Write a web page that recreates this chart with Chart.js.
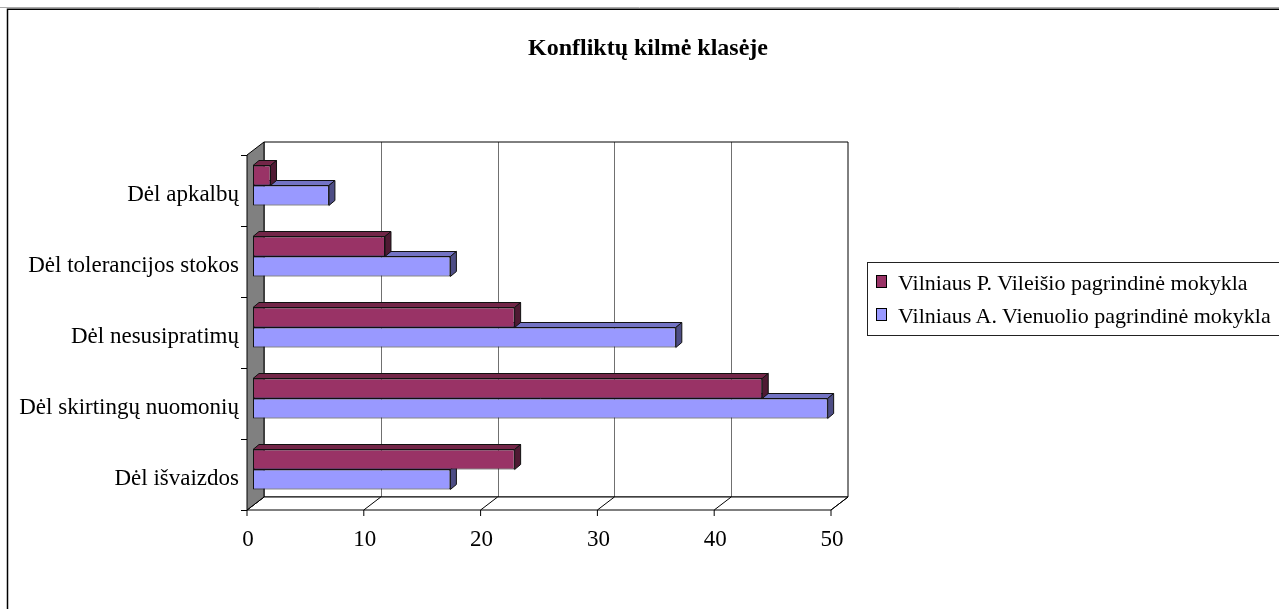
<!DOCTYPE html>
<html lang="lt">
<head>
  <meta charset="UTF-8">
  <title>Konfliktų kilmė klasėje</title>
  <script src="https://cdn.jsdelivr.net/npm/chart.js"></script>
  <style>
    body {
      margin: 0;
      width: 1279px;
      height: 609px;
      overflow: hidden;
      background: #fff;
      font-family: "Liberation Serif", "Times New Roman", serif;
      position: relative;
    }
    #wrap {
      position: absolute;
      left: 0;
      top: 0;
      width: 1279px;
      height: 609px;
    }
    .title {
      position: absolute;
      left: 0;
      width: 1296px;
      top: 35px;
      text-align: center;
      font-weight: bold;
      font-size: 24px;
      line-height: 24px;
    }
    .legend-box {
      position: absolute;
      left: 867px;
      top: 262px;
      width: 480px;
      height: 74px;
      box-sizing: border-box;
      border: 1px solid #222;
    }
    .swatch {
      position: absolute;
      left: 876px;
      width: 11px;
      height: 13px;
      box-sizing: border-box;
      border: 1px solid #000;
    }
    .legend-text {
      position: absolute;
      left: 898px;
      font-size: 22px;
      line-height: 22px;
      white-space: nowrap;
    }
  </style>
</head>
<body>
  <div id="wrap"><canvas id="chart"></canvas></div>
  <div class="title">Konfliktų kilmė klasėje</div>
  <div class="legend-box"></div>
  <div class="swatch" style="top:275px;background:#993366"></div>
  <div class="legend-text" style="top:272px">Vilniaus P. Vileišio pagrindinė mokykla</div>
  <div class="swatch" style="top:308px;background:#9999ff"></div>
  <div class="legend-text" style="top:305px">Vilniaus A. Vienuolio pagrindinė mokykla</div>

  <script>
    const categories = ['Dėl apkalbų', 'Dėl tolerancijos stokos', 'Dėl nesusipratimų', 'Dėl skirtingų nuomonių', 'Dėl išvaizdos'];
    const seriesNames = ['Vilniaus P. Vileišio pagrindinė mokykla', 'Vilniaus A. Vienuolio pagrindinė mokykla'];
    const vileisioValues = [1.5, 11.3, 22.4, 43.6, 22.4];
    const vienuolioValues = [6.5, 16.9, 36.2, 49.2, 16.9];
    const xTicks = [0, 10, 20, 30, 40, 50];

    // darker shades for the fake 3D top and side faces
    const faceColors = [
      { top: '#732648', side: '#4f1a33' },
      { top: '#7373c4', side: '#4d4d85' }
    ];

    // bar depth, and where the front/back planes sit relative to the bars
    const depth = { dx: 6, dy: -5 };
    const front = { dx: -6, dy: 5 };
    const back = { dx: 11, dy: -8 };

    function poly(ctx, pts, fill, stroke) {
      ctx.beginPath();
      ctx.moveTo(pts[0][0], pts[0][1]);
      for (let i = 1; i < pts.length; i++) ctx.lineTo(pts[i][0], pts[i][1]);
      ctx.closePath();
      if (fill) { ctx.fillStyle = fill; ctx.fill(); }
      if (stroke) { ctx.strokeStyle = stroke; ctx.lineWidth = 1; ctx.stroke(); }
    }

    const framePlugin = {
      id: 'frame',
      beforeDraw(chart) {
        const ctx = chart.ctx;
        ctx.save();
        ctx.strokeStyle = '#aaa';
        ctx.lineWidth = 1;
        ctx.beginPath(); ctx.moveTo(0, 7.5); ctx.lineTo(1279, 7.5); ctx.stroke();
        ctx.strokeStyle = '#000';
        ctx.lineWidth = 1.5;
        ctx.beginPath(); ctx.moveTo(7.5, 609); ctx.lineTo(7.5, 9.25); ctx.lineTo(1279, 9.25); ctx.stroke();
        ctx.restore();
      }
    };

    // walls, floor and gridlines of the 3D box
    const boxPlugin = {
      id: 'box3d',
      beforeDatasetsDraw(chart) {
        const ctx = chart.ctx;
        const a = chart.chartArea;
        const xs = chart.scales.x;
        const L = a.left, R = a.right, T = a.top, B = a.bottom;
        ctx.save();

        // back wall
        poly(ctx, [[L + back.dx, T + back.dy], [R + back.dx, T + back.dy], [R + back.dx, B + back.dy], [L + back.dx, B + back.dy]], '#fff', null);
        ctx.strokeStyle = '#707070';
        ctx.lineWidth = 1;
        xTicks.forEach(v => {
          if (v === 0 || v === xTicks[xTicks.length - 1]) return;
          const px = Math.round(xs.getPixelForValue(v) + back.dx) + 0.5;
          ctx.beginPath(); ctx.moveTo(px, T + back.dy); ctx.lineTo(px, B + back.dy); ctx.stroke();
        });
        poly(ctx, [[L + back.dx, T + back.dy], [R + back.dx, T + back.dy], [R + back.dx, B + back.dy], [L + back.dx, B + back.dy]], null, '#000');

        // floor
        const fl = [[L + front.dx, B + front.dy], [R + front.dx, B + front.dy], [R + back.dx, B + back.dy], [L + back.dx, B + back.dy]];
        poly(ctx, fl, '#fff', '#000');
        ctx.strokeStyle = '#000';
        xTicks.forEach(v => {
          const px = xs.getPixelForValue(v);
          ctx.beginPath();
          ctx.moveTo(px + front.dx, B + front.dy);
          ctx.lineTo(px + back.dx, B + back.dy);
          ctx.stroke();
          ctx.beginPath();
          ctx.moveTo(px + front.dx, B + front.dy);
          ctx.lineTo(px + front.dx, B + front.dy + 6);
          ctx.stroke();
        });

        // left wall
        poly(ctx, [[L + front.dx, B + front.dy], [L + front.dx, T + front.dy], [L + back.dx, T + back.dy], [L + back.dx, B + back.dy]], '#808080', '#000');

        // category ticks on the front edge of the wall
        const band = (B - T) / categories.length;
        for (let i = 0; i <= categories.length; i++) {
          const py = Math.round(T + i * band + front.dy) + 0.5;
          ctx.beginPath();
          ctx.moveTo(L + front.dx - 6, py);
          ctx.lineTo(L + front.dx, py);
          ctx.stroke();
        }
        ctx.restore();
      },
      afterDatasetDraw(chart, args) {
        const ctx = chart.ctx;
        const meta = args.meta;
        const fc = faceColors[args.index];
        ctx.save();
        ctx.lineJoin = 'round';
        meta.data.forEach(bar => {
          const p = bar.getProps(['x', 'y', 'base', 'height'], true);
          const l = p.base, r = p.x;
          const t = p.y - p.height / 2, b = p.y + p.height / 2;
          poly(ctx, [[l, t], [l + depth.dx, t + depth.dy], [r + depth.dx, t + depth.dy], [r, t]], fc.top, '#111');
          poly(ctx, [[r, t], [r + depth.dx, t + depth.dy], [r + depth.dx, b + depth.dy], [r, b]], fc.side, '#111');
        });
        ctx.restore();
      }
    };

    new Chart(document.getElementById('chart'), {
      type: 'bar',
      data: {
        labels: categories,
        datasets: [
          {
            label: seriesNames[0],
            data: vileisioValues,
            backgroundColor: '#993366',
            borderColor: '#111',
            borderWidth: 1,
            borderSkipped: false
          },
          {
            label: seriesNames[1],
            data: vienuolioValues,
            backgroundColor: '#9999ff',
            borderColor: '#111',
            borderWidth: 1,
            borderSkipped: false
          }
        ]
      },
      options: {
        indexAxis: 'y',
        responsive: true,
        maintainAspectRatio: false,
        animation: false,
        layout: { padding: { left: 0, top: 150, right: 442, bottom: 44 } },
        categoryPercentage: 0.563,
        barPercentage: 1.0,
        plugins: {
          legend: { display: false },
          title: { display: false },
          tooltip: { enabled: false }
        },
        scales: {
          x: {
            min: 0,
            max: 50,
            afterFit: s => { s.height = 60; },
            afterBuildTicks: s => { s.ticks = xTicks.map(v => ({ value: v })); },
            grid: { display: false, drawTicks: false },
            border: { display: false },
            ticks: {
              padding: 21,
              labelOffset: -5,
              color: '#000',
              font: { family: 'Liberation Serif', size: 23 }
            }
          },
          y: {
            afterFit: s => { s.width = 253; },
            grid: { display: false, drawTicks: false },
            border: { display: false },
            ticks: {
              padding: 14,
              labelOffset: 9,
              color: '#000',
              font: { family: 'Liberation Serif', size: 23 }
            }
          }
        }
      },
      plugins: [framePlugin, boxPlugin]
    });
  </script>
</body>
</html>
